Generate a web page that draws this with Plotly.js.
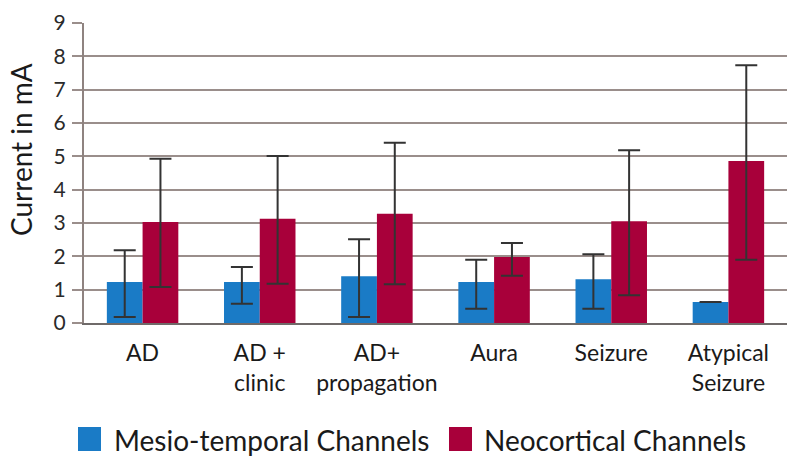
<!DOCTYPE html>
<html>
<head>
<meta charset="utf-8">
<script src="https://cdn.plot.ly/plotly-3.0.1.min.js"></script>
<style>html,body{margin:0;padding:0;background:#fff;}#chart{width:800px;height:468px;}</style>
</head>
<body>
<div id="chart"></div>
<script>
const categories = ["AD", "AD +<br>clinic", "AD+<br>propagation", "Aura", "Seizure", "Atypical<br>Seizure"];
const seriesNames = ["Mesio-temporal Channels", "Neocortical Channels"];
const mesioMean = [1.23, 1.23, 1.40, 1.23, 1.31, 0.63];
const mesioUpper = [2.18, 1.68, 2.51, 1.90, 2.06, 0.63];
const mesioLower = [0.18, 0.58, 0.18, 0.43, 0.43, 0.63];
const neoMean = [3.03, 3.13, 3.28, 1.98, 3.05, 4.86];
const neoUpper = [4.93, 5.01, 5.41, 2.40, 5.18, 7.73];
const neoLower = [1.08, 1.18, 1.16, 1.42, 0.83, 1.90];
const yTicks = [0, 1, 2, 3, 4, 5, 6, 7, 8, 9];
const yTitle = "Current in mA";

const colors = ["#1a7bc6", "#a8003a"];
const FONT = "Lato, 'Open Sans', sans-serif";

function errs(mean, up, lo) {
  return {
    type: 'data', symmetric: false,
    array: mean.map((m, i) => up[i] - m),
    arrayminus: mean.map((m, i) => m - lo[i]),
    color: '#333333', thickness: 2, width: 11, visible: true
  };
}

const traces = [
  {type: 'bar', name: seriesNames[0], x: categories, y: mesioMean,
   marker: {color: colors[0]}, error_y: errs(mesioMean, mesioUpper, mesioLower), showlegend: false},
  {type: 'bar', name: seriesNames[1], x: categories, y: neoMean,
   marker: {color: colors[1]}, error_y: errs(neoMean, neoUpper, neoLower), showlegend: false}
];

const legendItems = [
  {sx: 78, tx: 112},
  {sx: 449, tx: 482}
];
const shapes = [];
const annotations = [];
legendItems.forEach((it, i) => {
  shapes.push({type: 'rect', xref: 'paper', yref: 'paper',
    x0: (it.sx - 84) / 703, x1: (it.sx + 23 - 84) / 703,
    y0: (323 - 451) / 300, y1: (323 - 427) / 300,
    fillcolor: colors[i], line: {width: 0}});
  annotations.push({xref: 'paper', yref: 'paper', x: (it.tx - 84) / 703, y: (323 - 440) / 300,
    xanchor: 'left', yanchor: 'middle', showarrow: false, text: seriesNames[i],
    font: {family: FONT, size: 28, color: '#1a1a1a'}});
});
annotations.push({xref: 'paper', yref: 'paper', x: (21 - 84) / 703, y: (323 - 150) / 300,
  xanchor: 'center', yanchor: 'middle', showarrow: false, textangle: -90, text: yTitle,
  font: {family: FONT, size: 28, color: '#1a1a1a'}});

const layout = {
  width: 800, height: 468,
  margin: {l: 84, r: 13, t: 23, b: 145},
  paper_bgcolor: '#ffffff', plot_bgcolor: '#ffffff',
  barmode: 'group', bargap: 0.39, bargroupgap: 0,
  font: {family: FONT, color: '#1a1a1a'},
  xaxis: {
    type: 'category', showgrid: false, zeroline: false,
    showline: true, linecolor: '#6f6a69', linewidth: 2,
    ticks: '', tickfont: {family: FONT, size: 23, color: '#1a1a1a'},
    ticklabelstandoff: 8, fixedrange: true
  },
  yaxis: {
    range: [0, 9], tickvals: yTicks, ticktext: yTicks.map(String),
    showgrid: true, gridcolor: '#9a8e8b', gridwidth: 2,
    zeroline: false, showline: true, linecolor: '#8f8380', linewidth: 2,
    ticks: 'outside', ticklen: 10, tickwidth: 2, tickcolor: '#9a8e8b',
    tickfont: {family: FONT, size: 21, color: '#2a2a2a'}, ticklabelstandoff: 2,
    fixedrange: true
  },
  shapes: shapes,
  annotations: annotations
};

Plotly.newPlot('chart', traces, layout, {displayModeBar: false, staticPlot: true});
</script>
</body>
</html>
